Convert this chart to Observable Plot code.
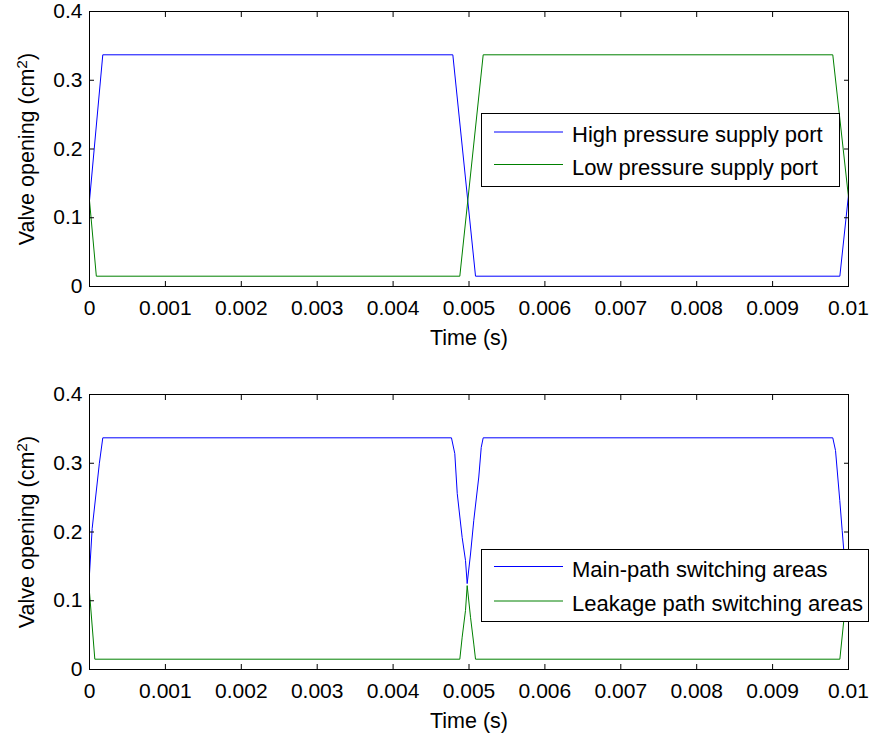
<!DOCTYPE html>
<html><head><meta charset="utf-8">
<script src="https://cdn.jsdelivr.net/npm/d3@7"></script>
<script src="https://cdn.jsdelivr.net/npm/@observablehq/plot@0.6"></script>
<style>
body{margin:0;background:#fff;}
#chart svg{display:block;}
</style>
</head><body><div id="chart"></div>
<script>
// ---- Axis ticks ----
const xTicks = [0, 0.001, 0.002, 0.003, 0.004, 0.005, 0.006, 0.007, 0.008, 0.009, 0.01];
const xTickLabels = ["0", "0.001", "0.002", "0.003", "0.004", "0.005", "0.006", "0.007", "0.008", "0.009", "0.01"];
const yTicks = [0, 0.1, 0.2, 0.3, 0.4];
const yTickLabels = ["0", "0.1", "0.2", "0.3", "0.4"];
const xLabel = "Time (s)";
const yLabel = "Valve opening (cm²)";

// ---- Top panel series ----
const topNames = ["High pressure supply port", "Low pressure supply port"];
const highTime  = [0, 0.000175, 0.004787, 0.005086, 0.009886, 0.01];
const highValue = [0.125, 0.337, 0.337, 0.015, 0.015, 0.133];
const lowTime   = [0, 0.00009, 0.004879, 0.005187, 0.009793, 0.01];
const lowValue  = [0.125, 0.015, 0.015, 0.337, 0.337, 0.13];

// ---- Bottom panel series ----
const bottomNames = ["Main-path switching areas", "Leakage path switching areas"];
const mainTime  = [0, 0.000035, 0.00013, 0.000175, 0.004769, 0.004813, 0.004845, 0.00491, 0.004954, 0.004976,
                   0.00502, 0.005063, 0.005129, 0.005161, 0.005187, 0.009793, 0.009829, 0.009885, 0.009917, 0.009938, 0.01];
const mainValue = [0.139, 0.205, 0.3, 0.337, 0.337, 0.314, 0.256, 0.192, 0.1585, 0.125,
                   0.168, 0.217, 0.28, 0.323, 0.337, 0.337, 0.3185, 0.246, 0.202, 0.173, 0.125];
const leakTime  = [0, 0.00007, 0.004879, 0.00491, 0.004954, 0.004976, 0.00502, 0.005063, 0.005086, 0.009886, 0.009938, 0.01];
const leakValue = [0.112, 0.015, 0.015, 0.047, 0.086, 0.122, 0.076, 0.037, 0.015, 0.015, 0.071, 0.12];

const colors = ["#0000ff", "#008000"];
const FONT = "'Liberation Sans', Arial, Helvetica, sans-serif";

function toRows(name, ts, vs) { return ts.map((t, i) => ({name, t, v: vs[i]})); }

function panel({names, series, marginTop, marginBottom, legend}) {
  const data = series.flatMap((s, k) => toRows(names[k], s[0], s[1]));
  const fmtX = d => xTickLabels[xTicks.indexOf(d)];
  const fmtY = d => yTickLabels[yTicks.indexOf(d)];
  const blank = () => "";
  const T = 5; // inward tick length
  const svg = Plot.plot({
    width: 871, height: 369,
    marginLeft: 89, marginRight: 23, marginTop, marginBottom,
    style: {fontFamily: FONT, fontSize: "21px", color: "#000", background: "#fff", overflow: "visible"},
    x: {domain: [0, 0.01]},
    y: {domain: [0, 0.4]},
    color: {domain: names, range: colors},
    marks: [
      Plot.line(data, {x: "t", y: "v", z: "name", stroke: "name", strokeWidth: 1}),
      Plot.frame({stroke: "#000", strokeWidth: 1}),
      // inward ticks on all four sides
      Plot.axisX({anchor: "bottom", ticks: xTicks, tickFormat: blank, tickSize: T, dy: -T, label: null}),
      Plot.axisX({anchor: "top", ticks: xTicks, tickFormat: blank, tickSize: T, dy: T, label: null}),
      Plot.axisY({anchor: "left", ticks: yTicks, tickFormat: blank, tickSize: T, dx: T, label: null}),
      Plot.axisY({anchor: "right", ticks: yTicks, tickFormat: blank, tickSize: T, dx: -T, label: null}),
      // tick labels
      Plot.axisX({anchor: "bottom", ticks: xTicks, tickFormat: fmtX, tickSize: 0, tickPadding: 14, label: null, fontSize: 21}),
      Plot.axisY({anchor: "left", ticks: yTicks, tickFormat: fmtY, tickSize: 0, tickPadding: 7, label: null, fontSize: 21}),
      Plot.text([xLabel], {frameAnchor: "bottom", dy: 52, fontSize: 21.5, lineAnchor: "middle", textAnchor: "middle"}),
      Plot.text([yLabel], {frameAnchor: "left", rotate: -90, dx: -62, fontSize: 21.5, lineAnchor: "middle", textAnchor: "middle"})
    ]
  });
  // render the "²" of the y label as a true superscript
  d3.select(svg).selectAll("text").filter(function() { return this.textContent === yLabel; })
    .each(function() {
      const t = d3.select(this);
      const parts = yLabel.split("²");
      t.text(null);
      t.append("tspan").text(parts[0]);
      t.append("tspan").attr("dy", "-0.45em").attr("font-size", "0.72em").text("2");
      t.append("tspan").attr("dy", "0.32em").text(parts[1]);
    });
  // legend box
  const g = d3.select(svg).append("g").attr("font-family", FONT).attr("font-size", 22).attr("text-anchor", "start");
  g.append("rect").attr("x", legend.x + 0.5).attr("y", legend.y + 0.5)
    .attr("width", legend.w).attr("height", legend.h)
    .attr("fill", "#fff").attr("stroke", "#000").attr("stroke-width", 1);
  names.forEach((n, k) => {
    const ly = legend.y + legend.rows[k];
    g.append("line").attr("x1", legend.x + 13).attr("x2", legend.x + 82)
      .attr("y1", ly + 0.5).attr("y2", ly + 0.5).attr("stroke", colors[k]).attr("stroke-width", 1);
    g.append("text").attr("x", legend.x + 91).attr("y", ly + 10.5).attr("fill", "#000")
      .attr("text-anchor", "start").text(n);
  });
  return svg;
}

const root = document.getElementById("chart");
root.appendChild(panel({
  names: topNames,
  series: [[highTime, highValue], [lowTime, lowValue]],
  marginTop: 11, marginBottom: 83,
  legend: {x: 481, y: 113, w: 358, h: 73, rows: [18.5, 51]}
}));
root.appendChild(panel({
  names: bottomNames,
  series: [[mainTime, mainValue], [leakTime, leakValue]],
  marginTop: 25, marginBottom: 69,
  legend: {x: 481, y: 180, w: 387, h: 72, rows: [17, 51.5]}
}));
</script>
</body></html>
